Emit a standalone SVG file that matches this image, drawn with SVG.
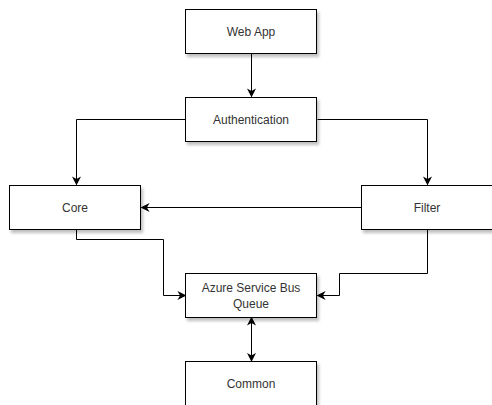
<svg xmlns="http://www.w3.org/2000/svg" width="492" height="405" viewBox="0 0 492 405">
  <style>
    .box { fill: #ffffff; stroke: #000000; stroke-width: 1; filter: url(#shadow); }
    .label { font-family: "Liberation Sans", Arial, sans-serif; font-size: 12px; fill: #333333; text-anchor: middle; }
    .edge { fill: none; stroke: #000000; stroke-width: 1; }
  </style>
  <defs>
    <filter id="shadow" x="-20%" y="-20%" width="140%" height="160%">
      <feDropShadow dx="2" dy="3" stdDeviation="1.5" flood-color="#000000" flood-opacity="0.25"/>
    </filter>
    <marker id="arrow" viewBox="0 0 10 10" refX="9" refY="5" markerWidth="9" markerHeight="9" markerUnits="userSpaceOnUse" orient="auto-start-reverse">
      <path d="M0,0 L10,5 L0,10 L3,5 Z" fill="#000000"/>
    </marker>
  </defs>
  <rect width="492" height="405" fill="#ffffff"/>

  <g id="connectors">
    <path class="edge" d="M251.5,53.5 L251.5,96.5" marker-end="url(#arrow)"/>
    <path class="edge" d="M185.5,119.5 L76.5,119.5 L76.5,184.5" marker-end="url(#arrow)"/>
    <path class="edge" d="M317.5,119.5 L427.5,119.5 L427.5,184.5" marker-end="url(#arrow)"/>
    <path class="edge" d="M361.5,207.5 L141.5,207.5" marker-end="url(#arrow)"/>
    <path class="edge" d="M76.5,229.5 L76.5,239.5 L163.5,239.5 L163.5,295.5 L185.5,295.5" marker-end="url(#arrow)"/>
    <path class="edge" d="M427.5,229.5 L427.5,273.5 L339.5,273.5 L339.5,295.5 L317.5,295.5" marker-end="url(#arrow)"/>
    <path class="edge" d="M251.5,317.5 L251.5,361" marker-start="url(#arrow)" marker-end="url(#arrow)"/>
  </g>

  <g id="web-app">
    <rect class="box" x="185.5" y="9.5" width="131" height="44"/>
    <text class="label" x="251" y="36">Web App</text>
  </g>
  <g id="authentication">
    <rect class="box" x="185.5" y="97.5" width="131" height="44"/>
    <text class="label" x="251" y="124">Authentication</text>
  </g>
  <g id="core">
    <rect class="box" x="9.5" y="185.5" width="131" height="44"/>
    <text class="label" x="75" y="212">Core</text>
  </g>
  <g id="filter">
    <rect class="box" x="361.5" y="185.5" width="131" height="44"/>
    <text class="label" x="427" y="212">Filter</text>
  </g>
  <g id="azure-service-bus-queue">
    <rect class="box" x="185.5" y="273.5" width="131" height="44"/>
    <text class="label" x="251" y="292">Azure Service Bus</text>
    <text class="label" x="251" y="308">Queue</text>
  </g>
  <g id="common">
    <rect class="box" x="185.5" y="361.5" width="131" height="44"/>
    <text class="label" x="251" y="388">Common</text>
  </g>
</svg>
